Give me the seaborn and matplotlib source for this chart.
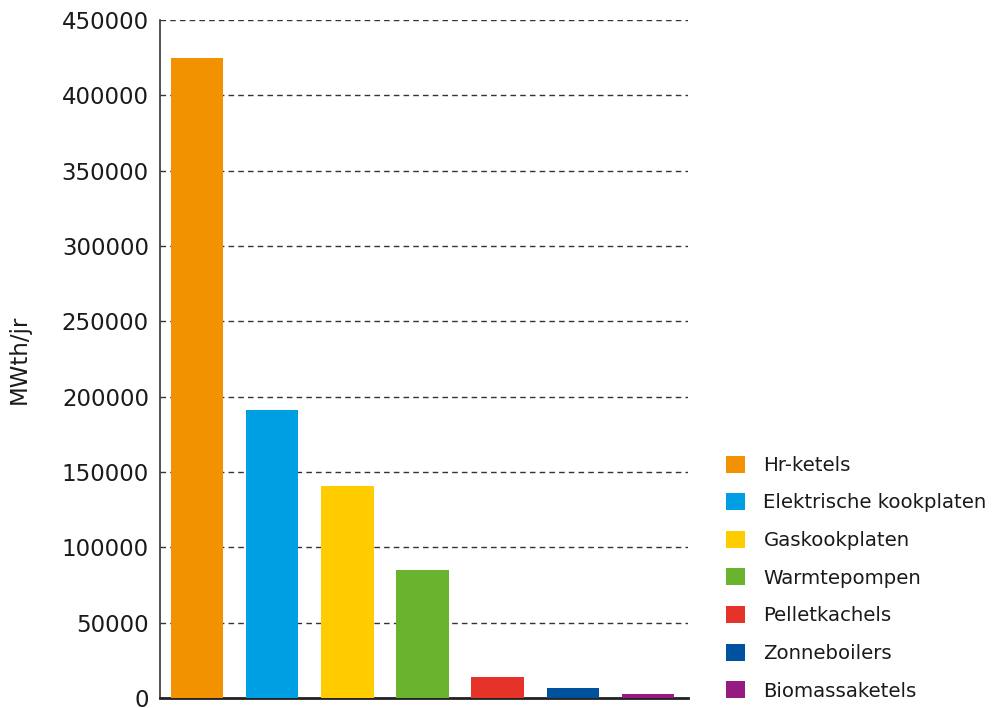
import matplotlib
matplotlib.use("Agg")
import matplotlib.pyplot as plt
import seaborn as sns
import pandas as pd
from matplotlib.patches import Patch

categories = ["Hr-ketels", "Elektrische kookplaten", "Gaskookplaten", "Warmtepompen",
              "Pelletkachels", "Zonneboilers", "Biomassaketels"]
values = [425000, 191000, 141000, 85000, 14000, 6600, 2700]
colors = ["#F39200", "#009FE3", "#FFCC00", "#69B32E", "#E63329", "#00529F", "#951B81"]
y_ticks = [0, 50000, 100000, 150000, 200000, 250000, 300000, 350000, 400000, 450000]

sns.set_theme(style="white")
plt.rcParams['font.family'] = ['DejaVu Sans']

df = pd.DataFrame({"categorie": categories, "waarde": values})

fig = plt.figure(figsize=(9.95, 7.08), dpi=100)
ax = fig.add_axes([160/995, 10/708, 528/995, 678/708])

sns.barplot(data=df, x="categorie", y="waarde", hue="categorie", palette=colors,
            dodge=False, legend=False, width=0.7, saturation=1, linewidth=0,
            edgecolor="none", ax=ax, zorder=3)

ax.set_xlim(-0.49, 6.53)
ax.set_ylim(0, 450000)
ax.set_yticks(y_ticks)
ax.set_yticklabels([str(t) for t in y_ticks], fontsize=16.5, color="#1a1a1a")
ax.set_xticks([])
ax.set_xlabel("")
ax.set_ylabel("MWth/jr", fontsize=16.5, color="#1a1a1a", labelpad=22)
ax.tick_params(axis="y", length=0, pad=8)
ax.yaxis.grid(True, linestyle=(0, (4, 3)), color="#333333", linewidth=1, zorder=0)
ax.set_axisbelow(True)
for s in ["top", "right"]:
    ax.spines[s].set_visible(False)
ax.spines["left"].set_color("#333333")
ax.spines["left"].set_linewidth(1.2)
ax.spines["bottom"].set_color("#222222")
ax.spines["bottom"].set_linewidth(2)

handles = [Patch(facecolor=c, edgecolor="none") for c in colors]
fig.legend(handles, categories, loc="upper left",
           bbox_to_anchor=(726/995, (708-455.5)/708), bbox_transform=fig.transFigure,
           frameon=False, fontsize=14.2, handlelength=0.95, handleheight=0.95,
           handletextpad=0.95, labelspacing=0.93, borderpad=0, borderaxespad=0,
           labelcolor="#1a1a1a")

fig.savefig("out.png", dpi=100)
